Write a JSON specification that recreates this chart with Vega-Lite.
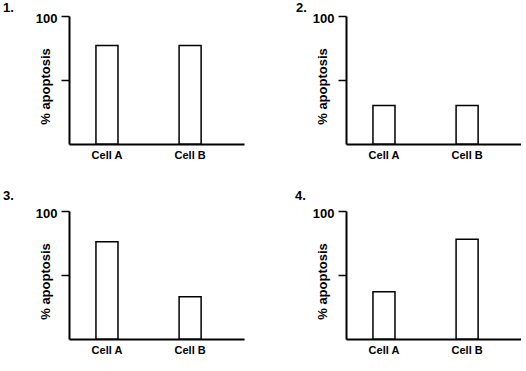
{
  "$schema": "https://vega.github.io/schema/vega-lite/v6.json",
  "background": "white",
  "padding": {"left": 3, "top": 2, "right": 0, "bottom": 0},
  "data": {"values": [
    {"panel": 1, "cell": "Cell A", "apoptosis": 77},
    {"panel": 1, "cell": "Cell B", "apoptosis": 77},
    {"panel": 2, "cell": "Cell A", "apoptosis": 30},
    {"panel": 2, "cell": "Cell B", "apoptosis": 30},
    {"panel": 3, "cell": "Cell A", "apoptosis": 76},
    {"panel": 3, "cell": "Cell B", "apoptosis": 33},
    {"panel": 4, "cell": "Cell A", "apoptosis": 37},
    {"panel": 4, "cell": "Cell B", "apoptosis": 78}
  ]},
  "columns": 2,
  "spacing": {"row": 30, "column": 51},
  "concat": [
    {
      "title": {"text": "1.", "dx": -66, "offset": -3},
      "width": 175, "height": 128,
      "transform": [{"filter": "datum.panel == 1"}],
      "mark": {"type": "bar", "fill": "white", "stroke": "black", "strokeWidth": 1.5},
      "encoding": {
        "x": {"field": "cell", "type": "nominal", "title": null, "scale": {"paddingInner": 0.735, "paddingOuter": 0.42, "align": 0.386}},
        "y": {"field": "apoptosis", "type": "quantitative", "title": "% apoptosis", "scale": {"domain": [0, 100]}, "axis": {"values": [50, 100], "labelExpr": "datum.value == 100 ? '100' : ''"}}
      }
    },
    {
      "title": {"text": "2.", "dx": -50, "offset": -3},
      "width": 175, "height": 128,
      "transform": [{"filter": "datum.panel == 2"}],
      "mark": {"type": "bar", "fill": "white", "stroke": "black", "strokeWidth": 1.5},
      "encoding": {
        "x": {"field": "cell", "type": "nominal", "title": null, "scale": {"paddingInner": 0.735, "paddingOuter": 0.42, "align": 0.386}},
        "y": {"field": "apoptosis", "type": "quantitative", "title": "% apoptosis", "scale": {"domain": [0, 100]}, "axis": {"values": [50, 100], "labelExpr": "datum.value == 100 ? '100' : ''"}}
      }
    },
    {
      "title": {"text": "3.", "dx": -66, "offset": 4},
      "width": 175, "height": 128,
      "transform": [{"filter": "datum.panel == 3"}],
      "mark": {"type": "bar", "fill": "white", "stroke": "black", "strokeWidth": 1.5},
      "encoding": {
        "x": {"field": "cell", "type": "nominal", "title": null, "scale": {"paddingInner": 0.735, "paddingOuter": 0.42, "align": 0.386}},
        "y": {"field": "apoptosis", "type": "quantitative", "title": "% apoptosis", "scale": {"domain": [0, 100]}, "axis": {"values": [50, 100], "labelExpr": "datum.value == 100 ? '100' : ''"}}
      }
    },
    {
      "title": {"text": "4.", "dx": -51, "offset": 4},
      "width": 175, "height": 128,
      "transform": [{"filter": "datum.panel == 4"}],
      "mark": {"type": "bar", "fill": "white", "stroke": "black", "strokeWidth": 1.5},
      "encoding": {
        "x": {"field": "cell", "type": "nominal", "title": null, "scale": {"paddingInner": 0.735, "paddingOuter": 0.42, "align": 0.386}},
        "y": {"field": "apoptosis", "type": "quantitative", "title": "% apoptosis", "scale": {"domain": [0, 100]}, "axis": {"values": [50, 100], "labelExpr": "datum.value == 100 ? '100' : ''"}}
      }
    }
  ],
  "config": {
    "view": {"stroke": null},
    "font": "Liberation Sans",
    "title": {"fontSize": 13, "font": "Liberation Sans", "fontWeight": "bold", "color": "black", "anchor": "start", "frame": "group"},
    "axis": {
      "grid": false,
      "domainColor": "black",
      "domainWidth": 2,
      "tickColor": "black",
      "tickWidth": 1.5,
      "labelColor": "black",
      "labelFont": "Liberation Sans",
      "labelFontWeight": "bold",
      "titleColor": "black",
      "titleFont": "Liberation Sans"
    },
    "axisX": {"ticks": false, "tickSize": 0, "labelPadding": 5, "labelFontSize": 11, "labelAngle": 0},
    "axisY": {"tickSize": 8, "labelPadding": 4, "labelFontSize": 13, "labelOffset": 2, "titleX": -17, "titleY": 70, "titleBaseline": "bottom", "titleFontSize": 13, "titleFontWeight": "bold"}
  }
}
